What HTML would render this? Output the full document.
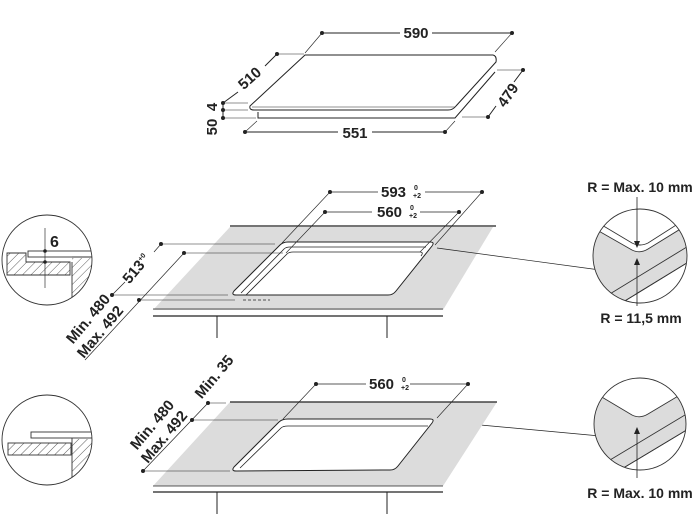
<!DOCTYPE html>
<html><head><meta charset="utf-8"><style>
html,body{margin:0;padding:0;background:#fff}
svg{display:block}
text{font-family:"Liberation Sans",Arial,sans-serif;font-weight:bold;fill:#222}
</style></head><body>
<svg width="700" height="529" viewBox="0 0 700 529" xmlns="http://www.w3.org/2000/svg">
<defs>
<pattern id="h" width="6" height="6" patternUnits="userSpaceOnUse" patternTransform="rotate(45)">
<line x1="0" y1="0" x2="0" y2="6" stroke="#333" stroke-width="0.8"/></pattern>
<clipPath id="c1"><circle cx="47" cy="260" r="45"/></clipPath>
<clipPath id="c2"><circle cx="47" cy="440" r="45"/></clipPath>
<clipPath id="c3"><circle cx="640" cy="256" r="47"/></clipPath>
<clipPath id="c4"><circle cx="640" cy="424" r="46"/></clipPath>
</defs>
<g stroke="#222" fill="none" stroke-width="1">
<path d="M258,112 L258,118 L455,118 L495,72" />
<path d="M305,55 L493,55 Q497,56 496,62 L456,106 Q453,110 448,110 L254,110 Q249,110 250,106 Z" fill="#fff"/>
<line x1="252" y1="107" x2="455" y2="107" stroke-width="0.6"/>
<line x1="322" y1="33" x2="400" y2="33"/><line x1="432" y1="33" x2="512" y2="33"/>
<line x1="322" y1="33" x2="305" y2="53" stroke-width="0.6"/><line x1="512" y1="33" x2="495" y2="52" stroke-width="0.6"/>
<line x1="277" y1="54" x2="304" y2="54" stroke-width="0.6"/>
<line x1="277" y1="54" x2="265" y2="66"/><line x1="238" y1="92" x2="223" y2="103"/>
<line x1="223" y1="103" x2="223" y2="118"/>
<line x1="223" y1="103" x2="248" y2="103" stroke-width="0.6"/><line x1="223" y1="110" x2="248" y2="110" stroke-width="0.6"/><line x1="223" y1="118" x2="256" y2="118" stroke-width="0.6"/>
<line x1="245" y1="132" x2="338" y2="132"/><line x1="372" y1="132" x2="445" y2="132"/>
<line x1="245" y1="132" x2="257" y2="121" stroke-width="0.6"/><line x1="445" y1="132" x2="455" y2="121" stroke-width="0.6"/>
<line x1="497" y1="70" x2="523" y2="70" stroke-width="0.6"/><line x1="462" y1="117" x2="488" y2="117" stroke-width="0.6"/>
<line x1="523" y1="70" x2="514" y2="82"/><line x1="496" y1="106" x2="488" y2="117"/>
</g>
<g fill="#222">
<circle cx="322" cy="33" r="2"/><circle cx="512" cy="33" r="2"/><circle cx="277" cy="54" r="2"/>
<circle cx="223" cy="103" r="2"/><circle cx="223" cy="110" r="2"/><circle cx="223" cy="118" r="2"/>
<circle cx="245" cy="132" r="2"/><circle cx="445" cy="132" r="2"/><circle cx="523" cy="70" r="2"/><circle cx="488" cy="117" r="2"/>
</g>
<g font-size="15">
<text x="416" y="38" text-anchor="middle">590</text>
<text x="355" y="138" text-anchor="middle">551</text>
<text transform="translate(253,82) rotate(-42)" text-anchor="middle">510</text>
<text transform="translate(512,98) rotate(-55)" text-anchor="middle">479</text>
<text transform="translate(217,107) rotate(-90)" text-anchor="middle">4</text>
<text transform="translate(217,127) rotate(-90)" text-anchor="middle">50</text>
</g>

<polygon points="230,227 493,227 443,310 153,310" fill="#dcdcdc"/>
<g stroke="#222" fill="none" stroke-width="1">
<line x1="230" y1="226" x2="496" y2="226" stroke-width="1.3"/>
<line x1="153" y1="309" x2="443" y2="309" stroke-width="0.8"/>
<line x1="153" y1="316" x2="443" y2="316" stroke-width="1.3"/>
<line x1="217" y1="316" x2="217" y2="338"/><line x1="387" y1="316" x2="387" y2="338"/>
<path d="M236,295 Q231,295 234,291 L280,245 Q283,242 288,242 L430,242 Q435,242 432,246 L396,291 Q393,295 388,295 Z" fill="#fff"/>
<path d="M241,293 L284,249 Q286,247 290,247 L426,247" stroke-width="0.8"/>
<path d="M246,295 L287,254 Q289,252 293,252 L420,252 Q424,252 421,256" stroke-width="0.8"/>
<line x1="330" y1="192" x2="378" y2="192" stroke-width="0.7"/><line x1="425" y1="192" x2="482" y2="192" stroke-width="0.7"/>
<line x1="325" y1="212" x2="372" y2="212" stroke-width="0.7"/><line x1="420" y1="212" x2="459" y2="212" stroke-width="0.7"/>
<line x1="330" y1="192" x2="282" y2="243" stroke-width="0.6"/><line x1="482" y1="192" x2="435" y2="245" stroke-width="0.6"/>
<line x1="325" y1="212" x2="286" y2="253" stroke-width="0.6"/><line x1="459" y1="212" x2="420" y2="252" stroke-width="0.6"/>
<line x1="161" y1="244" x2="275" y2="244" stroke-width="0.6"/><line x1="112" y1="295" x2="228" y2="295" stroke-width="0.6"/>
<line x1="161" y1="244" x2="154" y2="252" stroke-width="0.7"/><line x1="125" y1="282" x2="112" y2="295" stroke-width="0.7"/>
<line x1="184" y1="253" x2="283" y2="253" stroke-width="0.6"/><line x1="139" y1="300" x2="235" y2="300" stroke-width="0.6"/>
<line x1="243" y1="300" x2="270" y2="300" stroke-dasharray="3,2" stroke-width="0.8"/>
<line x1="184" y1="253" x2="85" y2="360" stroke-width="0.7"/>
<line x1="437" y1="248" x2="600" y2="270" stroke-width="0.7"/>
<line x1="437" y1="421" x2="600" y2="436" stroke-width="0.7"/>
</g>
<g fill="#222">
<circle cx="330" cy="192" r="2"/><circle cx="482" cy="192" r="2"/><circle cx="325" cy="212" r="2"/><circle cx="459" cy="212" r="2"/>
<circle cx="161" cy="244" r="2"/><circle cx="112" cy="295" r="2"/><circle cx="184" cy="253" r="2"/><circle cx="139" cy="300" r="2"/>
</g>
<g font-size="15">
<text x="381" y="197">593</text><text x="414" y="190" font-size="7">0</text><text x="413" y="198" font-size="7">+2</text>
<text x="377" y="217">560</text><text x="410" y="210" font-size="7">0</text><text x="409" y="218" font-size="7">+2</text>
<text transform="translate(140,272) rotate(-50)" text-anchor="middle">513<tspan font-size="7" dy="-6">+0</tspan></text>
<text transform="translate(92,322) rotate(-50)" text-anchor="middle">Min. 480</text>
<text transform="translate(104,335) rotate(-50)" text-anchor="middle">Max. 492</text>
</g>

<polygon points="230,402 497,402 443,486 153,486" fill="#dcdcdc"/>
<g stroke="#222" fill="none" stroke-width="1">
<line x1="230" y1="402" x2="497" y2="402" stroke-width="1.3"/>
<line x1="153" y1="486" x2="443" y2="486" stroke-width="0.8"/>
<line x1="153" y1="492" x2="443" y2="492" stroke-width="1.3"/>
<line x1="217" y1="492" x2="217" y2="514"/><line x1="387" y1="492" x2="387" y2="514"/>
<path d="M236,471 Q231,471 234,467 L279,422 Q282,419 288,419 L430,419 Q435,419 432,423 L398,466 Q395,470 390,470 Z" fill="#fff"/>
<path d="M240,468 L281,428 Q283,426 288,426 L428,426" stroke-width="0.8"/>
<line x1="316" y1="384" x2="366" y2="384" stroke-width="0.7"/><line x1="410" y1="384" x2="468" y2="384" stroke-width="0.7"/>
<line x1="316" y1="384" x2="283" y2="419" stroke-width="0.6"/><line x1="468" y1="384" x2="437" y2="418" stroke-width="0.6"/>
<line x1="208" y1="403" x2="226" y2="403" stroke-width="0.6"/>
<line x1="192" y1="420" x2="278" y2="420" stroke-width="0.6"/>
<line x1="143" y1="471" x2="230" y2="471" stroke-width="0.6"/>
<line x1="208" y1="403" x2="143" y2="471" stroke-width="0.7"/>
</g>
<g fill="#222">
<circle cx="316" cy="384" r="2"/><circle cx="468" cy="384" r="2"/><circle cx="208" cy="403" r="2"/><circle cx="192" cy="420" r="2"/><circle cx="143" cy="471" r="2"/>
</g>
<g font-size="15">
<text x="369" y="389">560</text><text x="402" y="382" font-size="7">0</text><text x="401" y="390" font-size="7">+2</text>
<text transform="translate(218,380) rotate(-50)" text-anchor="middle">Min. 35</text>
<text transform="translate(156,428) rotate(-50)" text-anchor="middle">Min. 480</text>
<text transform="translate(168,440) rotate(-50)" text-anchor="middle">Max. 492</text>
</g>

<g clip-path="url(#c1)" stroke="#333" stroke-width="0.9">
<path d="M7,253 L26,253 L26,262 L70,262 L70,275 L7,275 Z" fill="url(#h)"/>
<rect x="28" y="251" width="66" height="6" fill="#fff"/>
<path d="M72,262 L72,320 M72,257 L95,257" fill="none"/>
<rect x="72" y="258" width="25" height="60" fill="url(#h)" stroke="none"/>
<line x1="45" y1="228" x2="45" y2="288" stroke-width="0.7"/>
</g>
<circle cx="45" cy="251" r="1.8" fill="#222"/><circle cx="45" cy="262" r="1.8" fill="#222"/>
<text x="50" y="247" font-size="16">6</text>
<circle cx="47" cy="260" r="45" fill="none" stroke="#333" stroke-width="0.9"/>
<g clip-path="url(#c2)" stroke="#333" stroke-width="0.9">
<rect x="8" y="443" width="63" height="12" fill="url(#h)"/>
<rect x="31" y="432" width="64" height="6" fill="#fff"/>
<line x1="72" y1="438" x2="72" y2="490"/>
<rect x="72" y="439" width="25" height="50" fill="url(#h)" stroke="none"/>
</g>
<circle cx="47" cy="440" r="45" fill="none" stroke="#333" stroke-width="0.9"/>

<g clip-path="url(#c3)" stroke="#333" stroke-width="0.9">
<path d="M590,226 L632,250 Q640,254 648,249 L695,220 L695,258 L610,310 L590,310 Z" fill="#dcdcdc"/>
<path d="M590,218 L632,243 Q640,247 648,243 L695,213" fill="none"/>
<path d="M600,300 L695,242 M610,310 L695,258" fill="none"/>
</g>
<circle cx="640" cy="256" r="47" fill="none" stroke="#333" stroke-width="0.9"/>
<g clip-path="url(#c4)" stroke="#333" stroke-width="0.9">
<path d="M590,390 L632,415 Q640,419 648,414 L695,386 L695,425 L610,476 L590,476 Z" fill="#dcdcdc"/>
<path d="M600,466 L695,409 M610,476 L695,425" fill="none"/>
</g>
<circle cx="640" cy="424" r="46" fill="none" stroke="#333" stroke-width="0.9"/>
<g stroke="#222" stroke-width="0.8">
<line x1="637" y1="197" x2="637" y2="243"/><line x1="637" y1="263" x2="637" y2="306"/>
<line x1="637" y1="432" x2="637" y2="478"/>
</g>
<g fill="#222">
<polygon points="634,241 640,241 637,248"/><polygon points="634,265 640,265 637,258"/><polygon points="634,434 640,434 637,427"/>
</g>
<g font-size="14">
<text x="640" y="192" text-anchor="middle">R = Max. 10 mm</text>
<text x="641" y="323" text-anchor="middle">R = 11,5 mm</text>
<text x="640" y="498" text-anchor="middle">R = Max. 10 mm</text>
</g>
</svg>
</body></html>
